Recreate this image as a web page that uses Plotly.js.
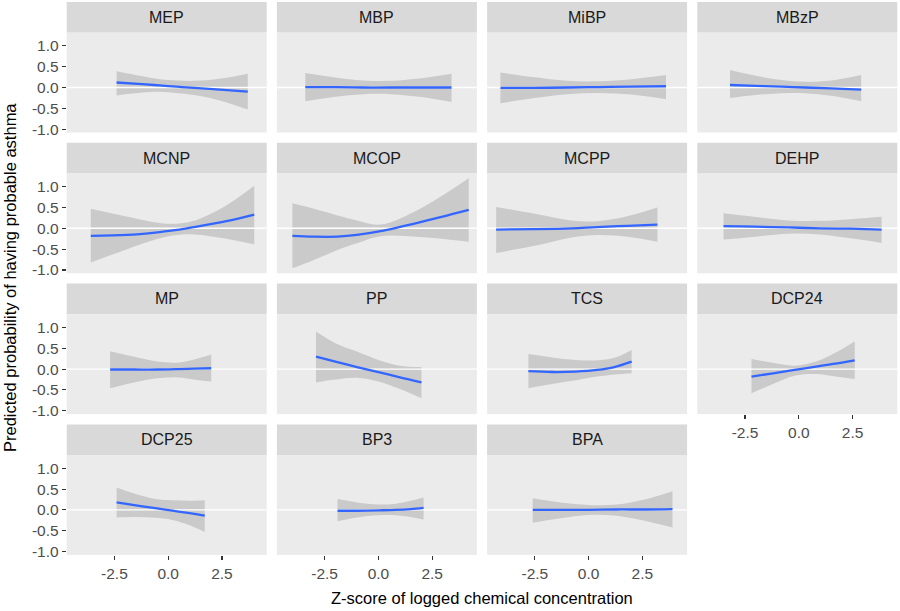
<!DOCTYPE html>
<html>
<head>
<meta charset="utf-8">
<script src="https://cdn.plot.ly/plotly-3.0.1.min.js"></script>
<style>
  html, body { margin: 0; padding: 0; background: #fff; }
  #plotArea { width: 900px; height: 611px; }
</style>
</head>
<body>
<div id="plotArea"></div>
<script>
// facet names, in panel order
var panelNames = ["MEP", "MBP", "MiBP", "MBzP", "MCNP", "MCOP", "MCPP", "DEHP",
                  "MP", "PP", "TCS", "DCP24", "DCP25", "BP3", "BPA"];

var xTickVals = [-2.5, 0, 2.5];
var xTickText = ["-2.5", "0.0", "2.5"];
var yTickVals = [-1, -0.5, 0, 0.5, 1];
var yTickText = ["-1.0", "-0.5", "0.0", "0.5", "1.0"];

// smooth fit + confidence band
var mepX    = [-2.4, -1.2, -0.4, 0.4, 1.2, 2.4, 3.7];
var mepFit  = [0.12, 0.08, 0.05, 0.02, -0.01, -0.05, -0.10];
var mepHigh = [0.39, 0.27, 0.20, 0.17, 0.16, 0.21, 0.33];
var mepLow  = [-0.19, -0.12, -0.10, -0.13, -0.18, -0.31, -0.53];

var mbpX    = [-3.4, -2.0, -0.7, 0.6, 2.0, 3.4];
var mbpFit  = [0.01, 0.01, 0.0, 0.0, 0.0, 0.0];
var mbpHigh = [0.35, 0.24, 0.17, 0.16, 0.22, 0.33];
var mbpLow  = [-0.33, -0.22, -0.16, -0.16, -0.23, -0.35];

var mibpX    = [-4.1, -2.6, -1.0, 0.5, 2.0, 3.6];
var mibpFit  = [-0.01, -0.01, 0.0, 0.01, 0.02, 0.03];
var mibpHigh = [0.36, 0.25, 0.16, 0.15, 0.20, 0.30];
var mibpLow  = [-0.38, -0.26, -0.16, -0.13, -0.17, -0.28];

var mbzpX    = [-3.2, -2.0, -0.8, 0.3, 1.5, 2.9];
var mbzpFit  = [0.06, 0.04, 0.02, 0.0, -0.02, -0.05];
var mbzpHigh = [0.42, 0.28, 0.18, 0.14, 0.17, 0.30];
var mbzpLow  = [-0.25, -0.18, -0.14, -0.14, -0.20, -0.33];

var mcnpX    = [-3.6, -1.9, -0.4, 0.4, 1.2, 2.7, 4.0];
var mcnpFit  = [-0.18, -0.16, -0.09, -0.04, 0.03, 0.17, 0.33];
var mcnpHigh = [0.47, 0.28, 0.13, 0.11, 0.18, 0.55, 1.02];
var mcnpLow  = [-0.82, -0.50, -0.24, -0.16, -0.15, -0.25, -0.38];

var mcopX    = [-4.0, -3.0, -1.9, -1.0, 0.1, 1.9, 4.2];
var mcopFit  = [-0.18, -0.20, -0.20, -0.16, -0.07, 0.14, 0.44];
var mcopHigh = [0.60, 0.47, 0.31, 0.19, 0.09, 0.46, 1.20];
var mcopLow  = [-0.96, -0.76, -0.52, -0.36, -0.19, -0.21, -0.32];

var mcppX    = [-4.3, -2.5, -0.8, 0.4, 1.8, 3.2];
var mcppFit  = [-0.03, -0.02, 0.0, 0.03, 0.06, 0.09];
var mcppHigh = [0.51, 0.35, 0.19, 0.17, 0.29, 0.50];
var mcppLow  = [-0.59, -0.42, -0.22, -0.16, -0.20, -0.32];

var dehpX    = [-3.5, -2.0, -0.5, 1.0, 2.4, 3.85];
var dehpFit  = [0.05, 0.04, 0.02, 0.0, -0.01, -0.03];
var dehpHigh = [0.36, 0.27, 0.19, 0.18, 0.22, 0.28];
var dehpLow  = [-0.27, -0.20, -0.13, -0.15, -0.24, -0.35];

var mpX    = [-2.7, -1.6, -0.5, 0.5, 1.2, 2.0];
var mpFit  = [-0.01, -0.01, -0.01, 0.0, 0.01, 0.02];
var mpHigh = [0.43, 0.30, 0.18, 0.16, 0.23, 0.35];
var mpLow  = [-0.46, -0.32, -0.22, -0.20, -0.25, -0.30];

var ppX    = [-2.9, -2.0, -1.0, 0.0, 1.0, 2.0];
var ppFit  = [0.30, 0.18, 0.05, -0.07, -0.20, -0.32];
var ppHigh = [0.90, 0.62, 0.42, 0.22, 0.08, 0.05];
var ppLow  = [-0.32, -0.25, -0.21, -0.30, -0.48, -0.70];

var tcsX    = [-2.8, -1.7, -0.6, 0.4, 1.2, 2.0];
var tcsFit  = [-0.05, -0.07, -0.06, -0.02, 0.05, 0.18];
var tcsHigh = [0.36, 0.28, 0.22, 0.21, 0.27, 0.46];
var tcsLow  = [-0.46, -0.36, -0.27, -0.18, -0.13, -0.10];

var dcp24X    = [-2.2, -1.2, -0.2, 0.8, 1.7, 2.6];
var dcp24Fit  = [-0.18, -0.10, -0.02, 0.06, 0.13, 0.21];
var dcp24High = [0.24, 0.15, 0.08, 0.18, 0.39, 0.67];
var dcp24Low  = [-0.58, -0.36, -0.16, -0.12, -0.18, -0.24];

var dcp25X    = [-2.4, -1.5, -0.6, 0.2, 1.0, 1.7];
var dcp25Fit  = [0.18, 0.11, 0.04, -0.02, -0.08, -0.14];
var dcp25High = [0.54, 0.38, 0.26, 0.23, 0.22, 0.23];
var dcp25Low  = [-0.18, -0.17, -0.19, -0.24, -0.37, -0.53];

var bp3X    = [-1.9, -1.0, 0.0, 0.8, 1.5, 2.1];
var bp3Fit  = [-0.02, -0.02, -0.01, 0.0, 0.02, 0.05];
var bp3High = [0.26, 0.18, 0.13, 0.15, 0.22, 0.30];
var bp3Low  = [-0.27, -0.18, -0.13, -0.13, -0.17, -0.23];

var bpaX    = [-2.6, -1.3, 0.0, 1.3, 2.6, 3.9];
var bpaFit  = [0.0, 0.0, 0.0, 0.01, 0.01, 0.02];
var bpaHigh = [0.28, 0.18, 0.12, 0.13, 0.25, 0.45];
var bpaLow  = [-0.31, -0.20, -0.12, -0.14, -0.26, -0.42];

var panels = [
  [mepX, mepFit, mepLow, mepHigh],
  [mbpX, mbpFit, mbpLow, mbpHigh],
  [mibpX, mibpFit, mibpLow, mibpHigh],
  [mbzpX, mbzpFit, mbzpLow, mbzpHigh],
  [mcnpX, mcnpFit, mcnpLow, mcnpHigh],
  [mcopX, mcopFit, mcopLow, mcopHigh],
  [mcppX, mcppFit, mcppLow, mcppHigh],
  [dehpX, dehpFit, dehpLow, dehpHigh],
  [mpX, mpFit, mpLow, mpHigh],
  [ppX, ppFit, ppLow, ppHigh],
  [tcsX, tcsFit, tcsLow, tcsHigh],
  [dcp24X, dcp24Fit, dcp24Low, dcp24High],
  [dcp25X, dcp25Fit, dcp25Low, dcp25High],
  [bp3X, bp3Fit, bp3Low, bp3High],
  [bpaX, bpaFit, bpaLow, bpaHigh]
];

var xRange = [-4.72, 4.58];
var yRange = [-1.08, 1.32];

var W = 900, H = 611;
var font = "Liberation Sans, Arial, sans-serif";

var data = [];
var layout = {
  width: W, height: H,
  margin: {l: 0, r: 0, t: 0, b: 0},
  paper_bgcolor: "#ffffff",
  plot_bgcolor: "#EBEBEB",
  showlegend: false,
  hovermode: false,
  font: {family: font},
  shapes: [],
  annotations: []
};

panels.forEach(function(p, i) {
  var r = Math.floor(i / 4), c = i % 4;
  var n = i === 0 ? "" : String(i + 1);
  var xa = "x" + n, ya = "y" + n;

  var left = 66.7 + 210.2 * c;
  var top = 2 + 140.8 * r;
  var showX = i >= 11;
  var showY = c === 0;

  layout["xaxis" + n] = {
    domain: [left / W, (left + 200) / W],
    anchor: ya,
    range: xRange,
    showgrid: false, zeroline: false, showline: false,
    tickvals: xTickVals, ticktext: xTickText,
    showticklabels: showX,
    ticks: showX ? "outside" : "",
    ticklen: 4, tickwidth: 1.1, tickcolor: "#333333",
    tickfont: {size: 15.5, color: "#4D4D4D", family: font},
    fixedrange: true
  };
  layout["yaxis" + n] = {
    domain: [1 - (top + 130.5) / H, 1 - (top + 30.5) / H],
    anchor: xa,
    range: yRange,
    showgrid: false, zeroline: false, showline: false,
    tickvals: yTickVals, ticktext: yTickText,
    showticklabels: showY,
    ticks: showY ? "outside" : "",
    ticklen: 4, tickwidth: 1.1, tickcolor: "#333333",
    tickfont: {size: 15.5, color: "#4D4D4D", family: font},
    fixedrange: true
  };

  // confidence band
  data.push({
    x: p[0], y: p[2], xaxis: xa, yaxis: ya,
    type: "scatter", mode: "lines",
    line: {width: 0, shape: "spline", smoothing: 1}
  });
  data.push({
    x: p[0], y: p[3], xaxis: xa, yaxis: ya,
    type: "scatter", mode: "lines", fill: "tonexty",
    fillcolor: "rgba(153,153,153,0.4)",
    line: {width: 0, shape: "spline", smoothing: 1}
  });
  // white reference line at 0
  data.push({
    x: xRange, y: [0, 0], xaxis: xa, yaxis: ya,
    type: "scatter", mode: "lines",
    line: {color: "#ffffff", width: 1.4}
  });
  // fitted line
  data.push({
    x: p[0], y: p[1], xaxis: xa, yaxis: ya,
    type: "scatter", mode: "lines",
    line: {color: "#3366FF", width: 2.3, shape: "spline", smoothing: 1}
  });

  // strip
  layout.shapes.push({
    type: "rect", xref: xa + " domain", yref: ya + " domain",
    x0: 0, x1: 1, y0: 1, y1: 1.305,
    fillcolor: "#D9D9D9", line: {width: 0}, layer: "below"
  });
  layout.annotations.push({
    xref: xa + " domain", yref: ya + " domain",
    x: 0.5, y: 1.1525, xanchor: "center", yanchor: "middle",
    text: panelNames[i], showarrow: false,
    font: {size: 16, color: "#1A1A1A", family: font}
  });
});

layout.annotations.push({
  xref: "paper", yref: "paper",
  x: 482 / W, y: 1 - 598 / H, xanchor: "center", yanchor: "middle",
  text: "Z-score of logged chemical concentration", showarrow: false,
  font: {size: 16.5, color: "#000000", family: font}
});
layout.annotations.push({
  xref: "paper", yref: "paper",
  x: 10 / W, y: 1 - 278 / H, xanchor: "center", yanchor: "middle",
  textangle: -90,
  text: "Predicted probability of having probable asthma", showarrow: false,
  font: {size: 16.5, color: "#000000", family: font}
});

Plotly.newPlot("plotArea", data, layout, {displayModeBar: false, staticPlot: true});
</script>
</body>
</html>
